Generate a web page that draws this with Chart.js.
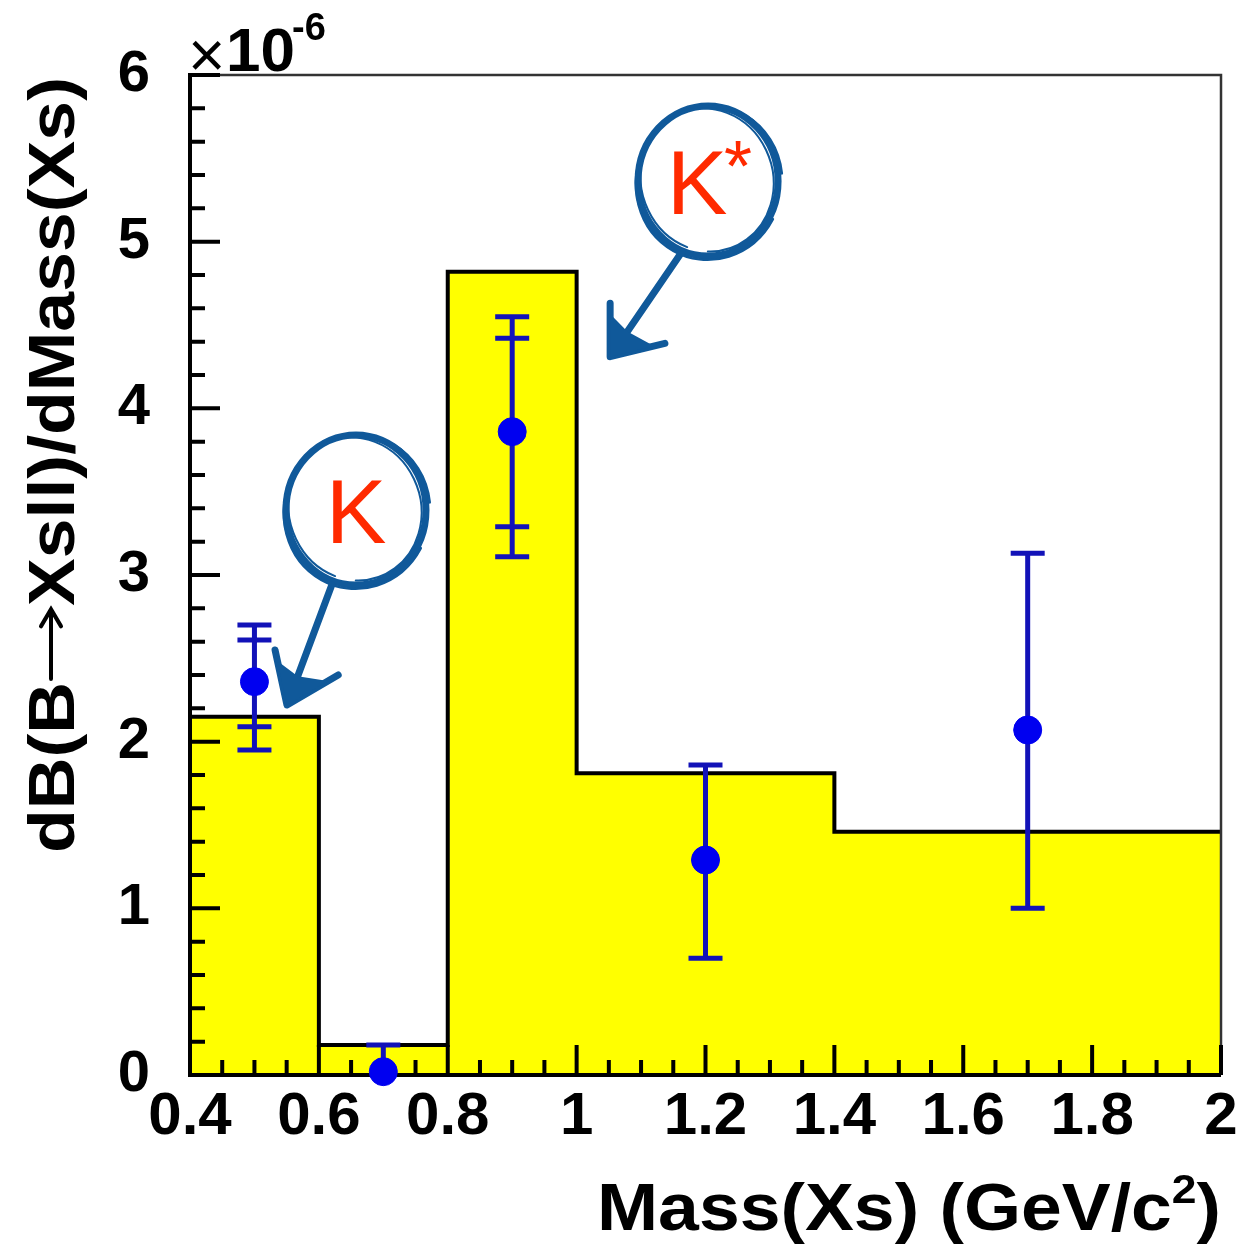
<!DOCTYPE html>
<html>
<head>
<meta charset="utf-8">
<script src="https://cdn.jsdelivr.net/npm/chart.js@4"></script>
<style>
  body { margin: 0; background: #fff; }
  #wrap { width: 1239px; height: 1245px; }
</style>
</head>
<body>
<div id="wrap"><canvas id="chart" width="1239" height="1245"></canvas></div>
<script>
// Histogram (MC prediction): bin edges and contents, units of 1e-6
const binEdges = [0.4, 0.6, 0.8, 1.0, 1.4, 2.0];
const binValues = [2.15, 0.18, 4.82, 1.81, 1.46];

// Measured points with stat (inner) and total (outer) errors
const pointX = [0.5, 0.7, 0.9, 1.2, 1.7];
const pointY = [2.36, 0.02, 3.86, 1.29, 2.07];
const hiInner = [2.61, 0.18, 4.42, 1.86, 3.13];
const hiOuter = [2.70, 0.18, 4.55, 1.86, 3.13];
const loInner = [2.09, -0.12, 3.29, 0.70, 1.00];
const loOuter = [1.95, -0.12, 3.11, 0.70, 1.00];

// Tick labels
const xTicks = [0.4, 0.6, 0.8, 1.0, 1.2, 1.4, 1.6, 1.8, 2.0];
const yTicks = [0, 1, 2, 3, 4, 5, 6];

// Hand drawn callouts, in data units
const callouts = [
  { label: 'K', sup: '', cx: 0.6576, cy: 3.39, from: [0.620, 2.94], tip: [0.5505, 2.22], barbA: [0.532, 2.55], barbB: [0.630, 2.40] },
  { label: 'K', sup: '*', cx: 1.204, cy: 5.364, from: [1.1635, 4.94], tip: [1.052, 4.31], barbA: [1.052, 4.63], barbB: [1.137, 4.39] }
];

const COLORS = {
  fill: '#ffff00',
  edge: '#000000',
  point: '#0000f0',
  bar: '#1212b8',
  callout: '#10599a',
  letter: '#ff2a00'
};

const FONT = '"Liberation Sans", Arial, sans-serif';

const histData = binEdges.map((x, i) => ({ x: x, y: binValues[Math.min(i, binValues.length - 1)] }));
const pointData = pointX.map((x, i) => ({ x: x, y: pointY[i] }));

// frame, inner tick marks and error bars, drawn between histogram and dots
const axesPlugin = {
  id: 'axesPlugin',
  beforeDatasetDraw(chart, args) {
    if (args.index !== 1) return;
    const { ctx, chartArea: a, scales: { x, y } } = chart;
    ctx.save();
    // thin frame top/right
    ctx.strokeStyle = '#333';
    ctx.lineWidth = 2.5;
    ctx.beginPath();
    ctx.moveTo(a.left, a.top);
    ctx.lineTo(a.right, a.top);
    ctx.lineTo(a.right, a.bottom);
    ctx.stroke();
    // axes
    ctx.strokeStyle = '#000';
    ctx.lineWidth = 4;
    ctx.beginPath();
    ctx.moveTo(a.left, a.top - 2);
    ctx.lineTo(a.left, a.bottom);
    ctx.lineTo(a.right, a.bottom);
    ctx.stroke();
    // y ticks every 0.2, major every 1
    ctx.beginPath();
    for (let i = 0; i <= 30; i++) {
      const py = y.getPixelForValue(i * 0.2);
      const len = i % 5 === 0 ? 30 : 15;
      ctx.moveTo(a.left, py);
      ctx.lineTo(a.left + len, py);
    }
    // x ticks every 0.05, major every 0.2
    for (let i = 0; i <= 32; i++) {
      const px = x.getPixelForValue(0.4 + i * 0.05);
      const len = i % 4 === 0 ? 30 : 15;
      ctx.moveTo(px, a.bottom);
      ctx.lineTo(px, a.bottom - len);
    }
    ctx.stroke();

    // error bars
    ctx.beginPath();
    ctx.rect(a.left, a.top, a.right - a.left, a.bottom - a.top);
    ctx.clip();
    ctx.strokeStyle = COLORS.bar;
    ctx.lineWidth = 5;
    ctx.beginPath();
    pointX.forEach((xv, i) => {
      const px = x.getPixelForValue(xv);
      const top = y.getPixelForValue(hiOuter[i]);
      const bot = y.getPixelForValue(loOuter[i]);
      ctx.moveTo(px, top);
      ctx.lineTo(px, bot);
      [hiInner[i], hiOuter[i], loInner[i], loOuter[i]].forEach(v => {
        const py = y.getPixelForValue(v);
        ctx.moveTo(px - 17, py);
        ctx.lineTo(px + 17, py);
      });
    });
    ctx.stroke();
    ctx.restore();
  },
  afterDraw(chart) {
    const { ctx, chartArea: a, scales: { x, y } } = chart;
    ctx.save();
    ctx.fillStyle = '#000';
    ctx.textBaseline = 'alphabetic';

    // x title, right aligned
    ctx.font = 'bold 66px ' + FONT;
    const main = 'Mass(Xs) (GeV/c';
    const wMain = ctx.measureText(main).width;
    const wClose = ctx.measureText(')').width;
    ctx.font = 'bold 40px ' + FONT;
    const wSup = ctx.measureText('2').width;
    const sx = 624 / (wMain + wSup + wClose);
    ctx.save();
    ctx.translate(a.right - 624, 1230);
    ctx.scale(sx, 1);
    ctx.font = 'bold 66px ' + FONT;
    ctx.fillText(main, 0, 0);
    ctx.fillText(')', wMain + wSup, 0);
    ctx.font = 'bold 40px ' + FONT;
    ctx.fillText('2', wMain, -27);
    ctx.restore();

    // y title, rotated, with a long drawn arrow
    ctx.save();
    ctx.font = 'bold 64px ' + FONT;
    const part1 = 'dB(B';
    const part2 = 'Xsll)/dMass(Xs)';
    const w1 = ctx.measureText(part1).width;
    const w2 = ctx.measureText(part2).width;
    const arrowLen = 62, gap = 3;
    const sy = 776 / (w1 + w2 + arrowLen + 2 * gap);
    ctx.translate(74, 853);
    ctx.rotate(-Math.PI / 2);
    ctx.scale(sy, 1);
    ctx.fillText(part1, 0, 0);
    const ax0 = w1 + gap, ax1 = w1 + gap + arrowLen, ayc = -23;
    ctx.strokeStyle = '#000';
    ctx.lineWidth = 4;
    ctx.lineCap = 'round';
    ctx.beginPath();
    ctx.moveTo(ax0, ayc);
    ctx.lineTo(ax1, ayc);
    ctx.moveTo(ax1 - 15, ayc - 10);
    ctx.lineTo(ax1, ayc);
    ctx.lineTo(ax1 - 15, ayc + 10);
    ctx.stroke();
    ctx.fillText(part2, ax1 + gap, 0);
    ctx.restore();

    // exponent label
    ctx.font = '64px ' + FONT;
    ctx.fillText('\u00d7', 188, 77);
    ctx.font = 'bold 62px ' + FONT;
    ctx.fillText('10', 226, 71);
    ctx.font = 'bold 38px ' + FONT;
    ctx.fillText('-6', 292, 40);

    // callouts
    callouts.forEach(c => {
      const cx = x.getPixelForValue(c.cx);
      const cy = y.getPixelForValue(c.cy);
      ctx.strokeStyle = COLORS.callout;
      ctx.fillStyle = COLORS.callout;
      ctx.lineCap = 'round';
      ctx.lineJoin = 'round';
      ctx.lineWidth = 7;
      ctx.beginPath();
      ctx.ellipse(cx, cy, 70, 75, 0, 0, Math.PI * 2);
      ctx.stroke();
      ctx.lineWidth = 2.5;
      ctx.beginPath();
      ctx.ellipse(cx + 1, cy + 2, 73, 77, 0.2, 0.3, Math.PI * 1.9);
      ctx.stroke();
      ctx.lineWidth = 2;
      ctx.beginPath();
      ctx.ellipse(cx - 1, cy - 1, 66, 72, -0.3, 2.2, Math.PI * 2.6);
      ctx.stroke();

      const fx = x.getPixelForValue(c.from[0]), fy = y.getPixelForValue(c.from[1]);
      const tx = x.getPixelForValue(c.tip[0]), ty = y.getPixelForValue(c.tip[1]);
      const ax = x.getPixelForValue(c.barbA[0]), ay = y.getPixelForValue(c.barbA[1]);
      const bx = x.getPixelForValue(c.barbB[0]), by = y.getPixelForValue(c.barbB[1]);
      ctx.lineWidth = 7;
      ctx.beginPath();
      ctx.moveTo(fx, fy);
      ctx.lineTo(tx + (fx - tx) * 0.2, ty + (fy - ty) * 0.2);
      ctx.stroke();
      const ix = tx + (fx - tx) * 0.24, iy = ty + (fy - ty) * 0.24;
      ctx.lineWidth = 7;
      ctx.beginPath();
      ctx.moveTo(ax, ay);
      ctx.lineTo(tx, ty);
      ctx.lineTo(bx, by);
      ctx.stroke();
      ctx.beginPath();
      ctx.moveTo(tx, ty);
      ctx.lineTo(tx + (ax - tx) * 0.8, ty + (ay - ty) * 0.8);
      ctx.lineTo(ix, iy);
      ctx.lineTo(tx + (bx - tx) * 0.8, ty + (by - ty) * 0.8);
      ctx.closePath();
      ctx.fill();

      ctx.fillStyle = COLORS.letter;
      ctx.font = '91px ' + FONT;
      ctx.textAlign = 'center';
      ctx.textBaseline = 'alphabetic';
      const kx = c.sup ? cx - 11 : cx;
      ctx.fillText(c.label, kx, cy + 33);
      if (c.sup) {
        ctx.font = '72px ' + FONT;
        ctx.fillText(c.sup, kx + 41, cy + 10);
      }
      ctx.textAlign = 'left';
    });
    ctx.restore();
  }
};

new Chart(document.getElementById('chart'), {
  type: 'line',
  data: {
    datasets: [
      {
        data: histData,
        stepped: 'before',
        borderColor: COLORS.edge,
        borderWidth: 4,
        backgroundColor: COLORS.fill,
        fill: 'origin',
        pointRadius: 0,
        order: 2
      },
      {
        data: pointData,
        showLine: false,
        pointRadius: 14,
        pointBackgroundColor: COLORS.point,
        pointBorderColor: COLORS.point,
        pointBorderWidth: 1,
        clip: false,
        order: 1
      }
    ]
  },
  plugins: [axesPlugin],
  options: {
    responsive: false,
    animation: false,
    layout: { padding: { left: 0, right: 18, top: 75, bottom: 0 } },
    plugins: {
      legend: { display: false },
      tooltip: { enabled: false }
    },
    scales: {
      x: {
        type: 'linear',
        min: 0.4,
        max: 2.0,
        grid: { display: false, drawTicks: false },
        border: { display: false },
        afterBuildTicks: s => { s.ticks = xTicks.map(v => ({ value: v })); },
        afterFit: s => { s.height = 170; s.paddingLeft = 0; s.paddingRight = 0; },
        ticks: {
          autoSkip: false,
          maxRotation: 0,
          padding: 6,
          color: '#000',
          font: { family: FONT, size: 60, weight: 'bold' },
          callback: v => String(Number(v.toFixed(1)))
        }
      },
      y: {
        min: 0,
        max: 6,
        grid: { display: false, drawTicks: false },
        border: { display: false },
        afterBuildTicks: s => { s.ticks = yTicks.map(v => ({ value: v })); },
        afterFit: s => { s.width = 190; s.paddingTop = 0; s.paddingBottom = 0; },
        ticks: {
          padding: 40,
          color: '#000',
          font: { family: FONT, size: 58, weight: 'bold' }
        }
      }
    }
  }
});
</script>
</body>
</html>
